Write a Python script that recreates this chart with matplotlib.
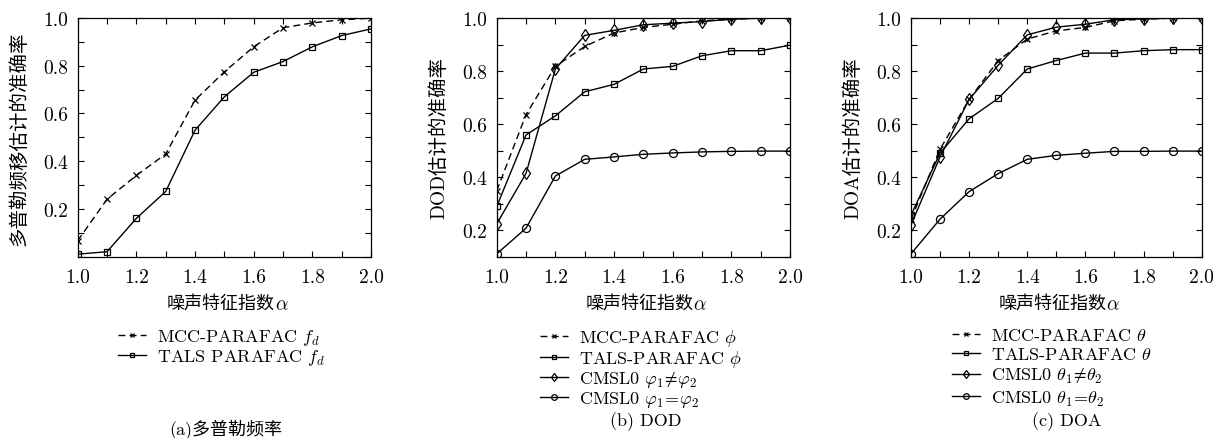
import numpy as np
import matplotlib
matplotlib.use('Agg')
import matplotlib.pyplot as plt
from matplotlib.ticker import MultipleLocator, FixedLocator
from matplotlib.offsetbox import TextArea, HPacker, AnchoredOffsetbox

plt.rcParams['font.family'] = ['cmr10', 'Noto Sans CJK SC', 'DejaVu Sans']
plt.rcParams['mathtext.fontset'] = 'cm'
plt.rcParams['axes.formatter.use_mathtext'] = True

# noise characteristic exponent
alpha = [1.0, 1.1, 1.2, 1.3, 1.4, 1.5, 1.6, 1.7, 1.8, 1.9, 2.0]

# (a) doppler
dop_mcc = [0.066, 0.24, 0.34, 0.43, 0.656, 0.775, 0.88, 0.96, 0.98, 0.993, 1.0]
dop_tals = [0.01, 0.02, 0.16, 0.273, 0.53, 0.67, 0.773, 0.818, 0.88, 0.927, 0.955]

# (b) DOD
dod_mcc = [0.348, 0.636, 0.818, 0.893, 0.944, 0.965, 0.977, 0.99, 0.996, 1.0, 1.0]
dod_tals = [0.289, 0.559, 0.631, 0.722, 0.75, 0.808, 0.818, 0.858, 0.877, 0.877, 0.898]
dod_neq = [0.223, 0.414, 0.808, 0.935, 0.954, 0.975, 0.981, 0.987, 0.996, 1.0, 1.0]
dod_eq = [0.11, 0.207, 0.404, 0.467, 0.476, 0.486, 0.491, 0.495, 0.497, 0.498, 0.498]

# (c) DOA
doa_mcc = [0.24, 0.505, 0.693, 0.84, 0.921, 0.952, 0.965, 0.99, 0.996, 1.0, 1.0]
doa_tals = [0.256, 0.49, 0.62, 0.697, 0.808, 0.84, 0.868, 0.868, 0.877, 0.881, 0.881]
doa_neq = [0.219, 0.476, 0.693, 0.822, 0.937, 0.966, 0.977, 0.994, 0.997, 1.0, 1.0]
doa_eq = [0.11, 0.241, 0.345, 0.413, 0.467, 0.482, 0.49, 0.497, 0.497, 0.498, 0.498]

xlabel_cn = '噪声特征指数'
xlabel_sym = '$\\alpha$'
ylabels = ['多普勒频移估计的准确率', 'DOD估计的准确率', 'DOA估计的准确率']
captions = ['(a)多普勒频率', '(b) DOD', '(c) DOA']

fig = plt.figure(figsize=(12.13, 4.39), dpi=100)
ax1 = fig.add_axes([0.064, 0.4134, 0.242, 0.543])
ax2 = fig.add_axes([0.4095, 0.4134, 0.2418, 0.543])
ax3 = fig.add_axes([0.751, 0.4134, 0.2397, 0.543])

mcc_style = dict(color='black', lw=1.0, ls=(0, (5, 3)), marker='x', ms=5, mew=0.9)
tals_style = dict(color='black', lw=1.0, ls='-', marker='s', ms=4.8, mfc='none', mew=0.9)
neq_style = dict(color='black', lw=1.0, ls='-', marker='d', ms=6.5, mfc='none', mew=0.9)
eq_style = dict(color='black', lw=1.0, ls='-', marker='o', ms=5.8, mfc='none', mew=0.9)

ax1.plot(alpha, dop_mcc, label='MCC-PARAFAC $f_d$', **mcc_style)
ax1.plot(alpha, dop_tals, label='TALS PARAFAC $f_d$', **tals_style)

ax2.plot(alpha, dod_mcc, label='MCC-PARAFAC $\\phi$', **mcc_style)
ax2.plot(alpha, dod_tals, label='TALS-PARAFAC $\\phi$', **tals_style)
ax2.plot(alpha, dod_neq, label='CMSL0 $\\varphi_1\\!\\neq\\!\\varphi_2$', **neq_style)
ax2.plot(alpha, dod_eq, label='CMSL0 $\\varphi_1\\!=\\!\\varphi_2$', **eq_style)

ax3.plot(alpha, doa_mcc, label='MCC-PARAFAC $\\theta$', **mcc_style)
ax3.plot(alpha, doa_tals, label='TALS-PARAFAC $\\theta$', **tals_style)
ax3.plot(alpha, doa_neq, label='CMSL0 $\\theta_1\\!\\neq\\!\\theta_2$', **neq_style)
ax3.plot(alpha, doa_eq, label='CMSL0 $\\theta_1\\!=\\!\\theta_2$', **eq_style)

ymins = [0.0, 0.1, 0.1]
leg_x = [0.137, 0.148, 0.141]
leg_space = [0.0, 0.0, 0.2]
cap_x = [0.186, 0.532, 0.879]
cap_y = [1 - 430 / 439, 1 - 422 / 439, 1 - 422 / 439]

for i, ax in enumerate([ax1, ax2, ax3]):
    ax.set_xlim(1.0, 2.0)
    ax.set_ylim(ymins[i], 1.0)
    ax.xaxis.set_major_locator(FixedLocator([1.0, 1.2, 1.4, 1.6, 1.8, 2.0]))
    ax.xaxis.set_minor_locator(MultipleLocator(0.1))
    ax.yaxis.set_major_locator(FixedLocator([0.2, 0.4, 0.6, 0.8, 1.0]))
    ax.yaxis.set_minor_locator(MultipleLocator(0.1))
    ax.set_xticklabels(['1.0', '1.2', '1.4', '1.6', '1.8', '2.0'])
    ax.set_yticklabels(['0.2', '0.4', '0.6', '0.8', '1.0'])
    ax.tick_params(which='both', direction='in', top=True, right=True,
                   length=4, width=0.8, labelsize=14)
    ax.tick_params(axis='x', pad=8)
    ax.tick_params(axis='y', pad=7)
    for sp in ax.spines.values():
        sp.set_linewidth(0.9)

    # y label, 58 px left of the axes
    ax.set_ylabel(ylabels[i], fontsize=14, va='center')
    ax.yaxis.set_label_coords(-58 / 293.0, 0.5)

    # x label: chinese text plus italic alpha on the same baseline
    cn = TextArea(xlabel_cn, textprops=dict(fontsize=13, family=['Noto Sans CJK SC']))
    sym = TextArea(xlabel_sym, textprops=dict(fontsize=14))
    box = HPacker(children=[cn, sym], align='baseline', pad=0, sep=0)
    ab = AnchoredOffsetbox(loc='center', child=box, frameon=False, pad=0, borderpad=0,
                           bbox_to_anchor=(0.51, -0.199), bbox_transform=ax.transAxes)
    ax.add_artist(ab)

    ax.legend(loc='upper left', bbox_to_anchor=(leg_x[i], -0.295),
              frameon=False, fontsize=13, handlelength=1.55,
              handletextpad=0.6, labelspacing=leg_space[i], borderpad=0,
              borderaxespad=0, markerscale=0.7)
    fig.text(cap_x[i], cap_y[i], captions[i], ha='center', va='center', fontsize=13)

fig.savefig('out.png', dpi=100)
